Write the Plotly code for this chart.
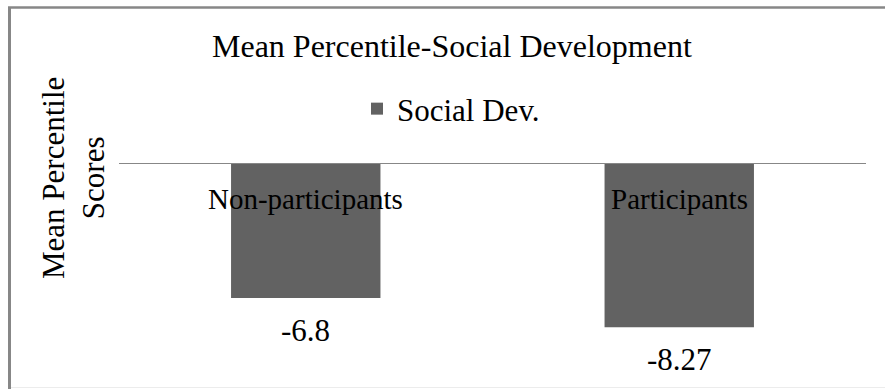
import plotly.graph_objects as go

# Mean percentile change in social development, by group
groups = ["Non-participants", "Participants"]
social_dev = [-6.8, -8.27]
series_name = "Social Dev."
chart_title = "Mean Percentile-Social Development"
y_title = "Mean Percentile<br>Scores"

FONT = "Liberation Serif, Times New Roman, serif"
BAR_COLOR = "#626262"
LINE_COLOR = "#878787"

W, H = 885, 389
ML, MR, MT, MB = 119, 19, 163, 11
plot_w = W - ML - MR
plot_h = H - MT - MB
px_per_unit = 19.85
y_low = -plot_h / px_per_unit


def px_to_paper_x(px):
    return (px - ML) / plot_w


def px_to_paper_y(py):
    return (H - MB - py) / plot_h


fig = go.Figure()
fig.add_trace(go.Bar(
    x=groups, y=social_dev, name=series_name,
    marker=dict(color=BAR_COLOR, line=dict(width=0)),
    showlegend=True,
))

annotations = []
# title
annotations.append(dict(
    text=chart_title, xref="paper", yref="paper",
    x=px_to_paper_x(452), y=px_to_paper_y(46), xanchor="center", yanchor="middle",
    showarrow=False, font=dict(family=FONT, size=32, color="black"),
))
# y-axis title
annotations.append(dict(
    text=y_title, xref="paper", yref="paper", textangle=-90,
    x=px_to_paper_x(73), y=px_to_paper_y(178), xanchor="center", yanchor="middle",
    showarrow=False, font=dict(family=FONT, size=31, color="black"),
))
# category labels just under the zero line
for g in groups:
    annotations.append(dict(
        text=g, x=g, y=0, xref="x", yref="y", xanchor="center", yanchor="top",
        yshift=-18, showarrow=False, font=dict(family=FONT, size=29, color="black"),
    ))
# value labels under each bar
for g, v in zip(groups, social_dev):
    annotations.append(dict(
        text=f"{v:g}", x=g, y=v, xref="x", yref="y", xanchor="center", yanchor="top",
        yshift=-13, showarrow=False, font=dict(family=FONT, size=31, color="black"),
    ))

shapes = [
    # zero line across the plot
    dict(type="line", xref="paper", yref="y", x0=0, x1=1, y0=0, y1=0,
         line=dict(color=LINE_COLOR, width=2), layer="above"),
    # chart frame (left and top edges)
    dict(type="line", xref="paper", yref="paper",
         x0=px_to_paper_x(9.5), x1=px_to_paper_x(9.5),
         y0=px_to_paper_y(7.5), y1=px_to_paper_y(395),
         line=dict(color=LINE_COLOR, width=3)),
    dict(type="line", xref="paper", yref="paper",
         x0=px_to_paper_x(8), x1=px_to_paper_x(900),
         y0=px_to_paper_y(7.5), y1=px_to_paper_y(7.5),
         line=dict(color=LINE_COLOR, width=2.5)),
    dict(type="line", xref="paper", yref="paper",
         x0=px_to_paper_x(11), x1=px_to_paper_x(900),
         y0=px_to_paper_y(387.5), y1=px_to_paper_y(387.5),
         line=dict(color="#ececec", width=1)),
]

fig.update_layout(
    width=W, height=H,
    margin=dict(l=ML, r=MR, t=MT, b=MB, pad=0),
    paper_bgcolor="white", plot_bgcolor="white",
    bargap=0.6,
    font=dict(family=FONT, size=31, color="black"),
    xaxis=dict(visible=False, range=[-0.5, 1.5]),
    yaxis=dict(visible=False, range=[y_low, 0]),
    showlegend=True,
    legend=dict(
        x=px_to_paper_x(451), y=px_to_paper_y(109), xanchor="center", yanchor="middle",
        orientation="h", bgcolor="rgba(0,0,0,0)",
        font=dict(family=FONT, size=31, color="black"),
        itemwidth=30, tracegroupgap=0,
    ),
    annotations=annotations,
    shapes=shapes,
)

fig.write_html("out.html")
